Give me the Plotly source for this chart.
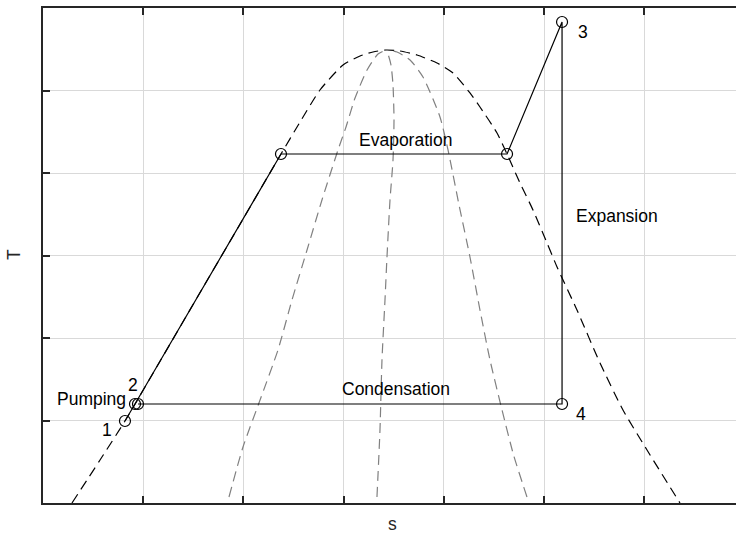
import plotly.graph_objects as go

# Saturation dome (black dashed)
dome_s = [0.289, 0.569, 0.818, 1.158, 1.547, 1.956, 2.375, 2.565, 2.764, 2.994, 3.164, 3.293, 3.423,
          3.563, 3.733, 3.932, 4.092, 4.261, 4.361, 4.531, 4.631, 4.760, 4.890, 5.030, 5.130, 5.329,
          5.559, 5.788, 6.028, 6.357]
dome_T = [0.0, 0.521, 0.994, 1.697, 2.509, 3.358, 4.230, 4.618, 5.006, 5.309, 5.418, 5.467, 5.491,
          5.479, 5.430, 5.333, 5.212, 4.970, 4.800, 4.485, 4.230, 3.879, 3.552, 3.152, 2.861, 2.339,
          1.697, 1.127, 0.642, 0.0]

# Quality lines (gray dashed)
q1_s = [1.856, 1.996, 2.166, 2.345, 2.485, 2.635, 2.784, 2.944, 3.024, 3.114, 3.234, 3.343, 3.423]
q1_T = [0.073, 0.679, 1.248, 1.855, 2.461, 3.067, 3.673, 4.279, 4.558, 4.909, 5.248, 5.442, 5.491]
q2_s = [3.333, 3.363, 3.383, 3.413, 3.433, 3.463, 3.493, 3.503, 3.493, 3.473, 3.443, 3.423]
q2_T = [0.073, 0.885, 1.733, 2.461, 2.982, 3.673, 4.158, 4.642, 5.067, 5.309, 5.442, 5.491]
q3_s = [4.830, 4.696, 4.581, 4.461, 4.361, 4.261, 4.152, 4.042, 3.962, 3.792, 3.663, 3.533, 3.423]
q3_T = [0.073, 0.582, 1.127, 1.733, 2.339, 2.982, 3.612, 4.279, 4.679, 5.164, 5.370, 5.467, 5.491]

# Rankine cycle states
cycle_s = [0.818, 0.918, 2.375, 4.631, 5.180, 5.180, 0.948]
cycle_T = [0.994, 1.200, 4.230, 4.230, 5.830, 1.200, 1.200]

# Labels
label_text = ["Evaporation", "Condensation", "Expansion", "Pumping", "1", "2", "3", "4"]
label_s = [3.613, 3.523, 5.729, 0.479, 0.639, 0.898, 5.389, 5.369]
label_T = [4.400, 1.382, 3.479, 1.261, 0.885, 1.430, 5.709, 1.079]

x_ticks = [0, 1, 2, 3, 4, 5, 6]
y_ticks = [0, 1, 2, 3, 4, 5, 6]

FONT = "Liberation Sans, Arial, Helvetica, sans-serif"

fig = go.Figure()
fig.add_trace(go.Scatter(x=dome_s, y=dome_T, mode="lines",
                         line=dict(color="black", width=1.2, dash="10px,6px", shape="spline", smoothing=0.6),
                         hoverinfo="skip", showlegend=False))
for qs, qt in [(q1_s, q1_T), (q2_s, q2_T), (q3_s, q3_T)]:
    fig.add_trace(go.Scatter(x=qs, y=qt, mode="lines",
                             line=dict(color="#808080", width=1.2, dash="10px,6px", shape="spline", smoothing=0.6),
                             hoverinfo="skip", showlegend=False))
fig.add_trace(go.Scatter(x=cycle_s, y=cycle_T, mode="lines+markers",
                         line=dict(color="black", width=1.2),
                         marker=dict(symbol="circle-open", size=11, color="black", line=dict(width=1.2)),
                         showlegend=False))

for t, xs, yt in zip(label_text, label_s, label_T):
    fig.add_annotation(x=xs, y=yt, text=t, showarrow=False, xanchor="center", yanchor="middle",
                       font=dict(family=FONT, size=17.5, color="black"))

fig.add_annotation(xref="paper", yref="paper", x=-0.0418, y=0.501, text="T", textangle=-90,
                   showarrow=False, xanchor="center", yanchor="middle",
                   font=dict(family=FONT, size=17.5, color="#262626"))
fig.add_annotation(xref="paper", yref="paper", x=0.505, y=-0.042, text="s",
                   showarrow=False, xanchor="center", yanchor="middle",
                   font=dict(family=FONT, size=17.5, color="#262626"))

axis_common = dict(showgrid=True, gridcolor="#d9d9d9", gridwidth=1.3, zeroline=False,
                   showline=True, linecolor="#262626", linewidth=1.5,
                   ticks="inside", ticklen=7, tickwidth=1.5, tickcolor="#262626",
                   showticklabels=False, tickmode="array")
fig.update_xaxes(range=[0, 6.916], tickvals=x_ticks, mirror="ticks", **axis_common)
fig.update_yaxes(range=[0, 6], tickvals=y_ticks, mirror=False, **axis_common)

fig.update_layout(width=736, height=535, margin=dict(l=43, r=0, t=8, b=32),
                  paper_bgcolor="white", plot_bgcolor="white",
                  font=dict(family=FONT, size=17, color="black"))

fig.write_html("out.html", config={"displayModeBar": False},
               post_script="document.body.style.margin='0';document.body.style.padding='0';"
                           "document.body.style.overflow='hidden';")
